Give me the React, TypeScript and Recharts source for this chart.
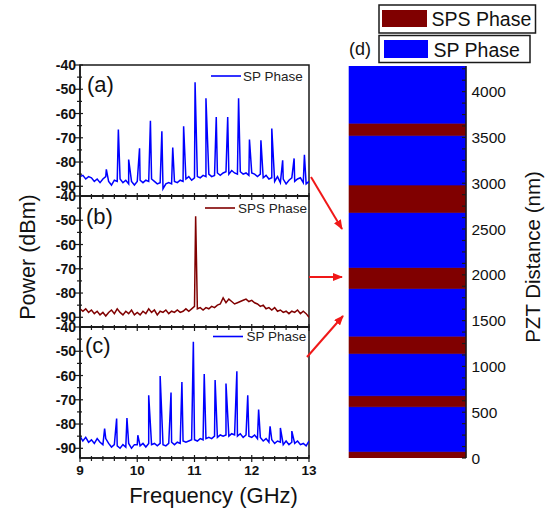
import React from 'react';
import { LineChart, Line, XAxis, YAxis, ReferenceArea, BarChart, Bar } from 'recharts';

// sampling grid of the spectrum analyser traces (GHz)
const freqGrid = [
  9.0, 9.05, 9.1, 9.15, 9.2, 9.25, 9.3, 9.35, 9.4, 9.45,
  9.5, 9.55, 9.6, 9.65, 9.7, 9.75, 9.8, 9.85, 9.9, 9.95,
  10.0, 10.05, 10.1, 10.15, 10.2, 10.25, 10.3, 10.35, 10.4, 10.45,
  10.5, 10.55, 10.6, 10.65, 10.7, 10.75, 10.8, 10.85, 10.9, 10.95,
  11.0, 11.05, 11.1, 11.15, 11.2, 11.25, 11.3, 11.35, 11.4, 11.45,
  11.5, 11.55, 11.6, 11.65, 11.7, 11.75, 11.8, 11.85, 11.9, 11.95,
  12.0, 12.05, 12.1, 12.15, 12.2, 12.25, 12.3, 12.35, 12.4, 12.45,
  12.5, 12.55, 12.6, 12.65, 12.7, 12.75, 12.8, 12.85, 12.9, 12.95,
  13.0,
];

// (a) SP phase
const baseA = [
  -86, -85.5, -87, -86, -86.5, -88, -87, -88.5, -87, -86,
  -88, -89.5, -87.5, -88, -87, -88.5, -87.5, -89, -88, -89.5,
  -88, -87.5, -88.5, -87.5, -88, -87, -88, -89, -88.5, -91,
  -89, -88.5, -89, -88, -88.5, -87.5, -88, -87, -86, -87.5,
  -86.5, -86, -86.5, -85.5, -86, -85, -86, -85.5, -84.5, -85.5,
  -84.5, -84, -85, -83.5, -84.5, -85, -84, -85, -84.5, -85.5,
  -84.5, -85, -86, -85, -86.5, -85.5, -87, -86.5, -88, -86,
  -88.5, -87, -89, -87.5, -86.5, -88, -87, -86.5, -88.5, -89,
  -88,
];
const peakFreqA = [9.46, 9.67, 9.85, 10.04, 10.23, 10.43, 10.62, 10.81, 11.01, 11.2, 11.38, 11.58, 11.77, 11.96, 12.16, 12.35, 12.54, 12.74, 12.92];
const peakPowerA = [-83, -66.6, -79, -74.3, -63, -67.3, -74, -65.3, -47.1, -53.7, -61.4, -61.4, -53.7, -70.7, -71, -66.2, -79.3, -78.5, -77];

// (b) SPS phase
const baseB = [
  -86.5, -87.5, -86.5, -88, -87, -88.5, -87.5, -89, -88, -89.5,
  -88, -87, -88.5, -86.5, -88, -89, -87.5, -88.5, -87, -89,
  -88, -89, -87.5, -88.5, -86.5, -88, -87, -89, -87.5, -88,
  -87, -88.5, -87.5, -88, -87, -88, -87.5, -86.5, -87.5, -86.5,
  -85.5, -86.5, -86, -87, -86, -86.5, -85.5, -86, -85, -84.5,
  -82, -84, -82.5, -83.5, -84.5, -84, -83.5, -83, -82.5, -83.5,
  -83, -84, -84.5, -85.5, -85, -86.5, -86, -87, -86, -87.5,
  -87, -88, -87.5, -88.5, -87.5, -88, -87, -88.5, -87.5, -88.5,
  -90,
];
const peakFreqB = [11.02];
const peakPowerB = [-48.4];

// (c) SP phase
const baseC = [
  -85, -87, -85.5, -87.5, -86.5, -88, -86, -87.5, -88.5, -86,
  -88, -89.5, -88.5, -89, -90, -88.5, -89.5, -88, -90, -88.5,
  -88.5, -89, -88, -89.5, -88, -88.5, -88, -89, -88, -88.5,
  -89, -88, -87.5, -88.5, -87.5, -88, -87, -87.5, -87, -86.5,
  -86.5, -87, -86, -86.5, -86, -85.5, -86, -85, -85.5, -84.5,
  -85, -84.5, -85, -84, -84.5, -85, -84, -85.5, -84.5, -85,
  -85.5, -84.5, -86, -85.5, -87, -86, -87.5, -86.5, -88, -87,
  -87.5, -88.5, -87, -88.5, -87.5, -88, -87, -88.5, -88, -89,
  -87,
];
const peakFreqC = [9.43, 9.64, 9.82, 10.01, 10.2, 10.4, 10.59, 10.78, 10.98, 11.17, 11.36, 11.55, 11.74, 11.93, 12.12, 12.32, 12.5, 12.7];
const peakPowerC = [-81.9, -77.7, -77.5, -84.6, -68.1, -60.2, -67, -62.7, -46.1, -59.4, -61.9, -63.3, -58.2, -68.1, -74, -80.9, -81.6, -82.9];

const freqTicks = [9, 9.2, 9.4, 9.6, 9.8, 10, 10.2, 10.4, 10.6, 10.8, 11, 11.2, 11.4, 11.6, 11.8, 12, 12.2, 12.4, 12.6, 12.8, 13];
const powerTicks = [-90, -85, -80, -75, -70, -65, -60, -55, -50, -45, -40];

// (d) phase map along the PZT scan (nm), band edges and phase of each band
const bandEdges = [0, 70, 560, 680, 1140, 1330, 1850, 2080, 2680, 2980, 3520, 3655, 4280];
const bandPhase = ['SPS', 'SP', 'SPS', 'SP', 'SPS', 'SP', 'SPS', 'SP', 'SPS', 'SP', 'SPS', 'SP'];
const distTicks = [
  0, 125, 250, 375, 500, 625, 750, 875, 1000, 1125, 1250, 1375, 1500, 1625, 1750, 1875,
  2000, 2125, 2250, 2375, 2500, 2625, 2750, 2875, 3000, 3125, 3250, 3375, 3500, 3625,
  3750, 3875, 4000, 4125, 4250,
];

const SP_COLOR = '#0000ff';
const SPS_COLOR = '#800000';
const FONT = '"Liberation Sans", Arial, sans-serif';
const AXIS = '#1a1a1a';

const buildSeries = (base: number[], pf: number[], pp: number[]) => {
  const pts = freqGrid.map((f, i) => ({ f, p: base[i] }));
  pf.forEach((f, i) => pts.push({ f, p: pp[i] }));
  return pts.sort((a, b) => a.f - b.f);
};

const dataA = buildSeries(baseA, peakFreqA, peakPowerA);
const dataB = buildSeries(baseB, peakFreqB, peakPowerB);
const dataC = buildSeries(baseC, peakFreqC, peakPowerC);

const FreqTick = (props: any) => {
  const { x, y, payload, showLabels } = props;
  const v = payload.value;
  const major = Math.abs(v - Math.round(v)) < 1e-6;
  return (
    <g>
      <line x1={x} x2={x} y1={y - (major ? 3 : 2)} y2={y + (major ? 4 : 3)} stroke={AXIS} strokeWidth={1.2} />
      {showLabels && major && (
        <text x={x} y={y + 16.5} textAnchor="middle" fontFamily={FONT} fontWeight="bold" fontSize={13.5} fill="#111">
          {v}
        </text>
      )}
    </g>
  );
};

const PowerTick = (props: any) => {
  const { x, y, payload } = props;
  const v = payload.value;
  const major = v % 10 === 0;
  return (
    <g>
      <line x1={x - (major ? 5 : 3)} x2={x + (major ? 3 : 2)} y1={y} y2={y} stroke={AXIS} strokeWidth={1.2} />
      {major && (
        <text x={x - 4} y={y} dy="0.36em" textAnchor="end" fontFamily={FONT} fontWeight="bold" fontSize={14} fill="#111">
          {v}
        </text>
      )}
    </g>
  );
};

const DistTick = (props: any) => {
  const { x, y, payload } = props;
  const v = payload.value;
  const major = v % 500 === 0;
  return (
    <g>
      <line x1={x - 4} x2={x} y1={y} y2={y} stroke={AXIS} strokeWidth={1.2} />
      {major && (
        <text x={x + 5.5} y={y} dy="0.36em" textAnchor="start" fontFamily={FONT} fontSize={15.5} fill="#111">
          {v}
        </text>
      )}
    </g>
  );
};

interface PanelProps {
  plotTop: number;
  data: { f: number; p: number }[];
  color: string;
  showLabels: boolean;
}

const SpectrumPanel: React.FC<PanelProps> = ({ plotTop, data, color, showLabels }) => {
  const axisH = showLabels ? 26 : 5;
  return (
    <div style={{ position: 'absolute', left: 0, top: plotTop - 10 }}>
      <LineChart
        width={320}
        height={10 + 131 + axisH}
        data={data}
        margin={{ top: 10, right: 11, left: 30, bottom: 0 }}
      >
        <XAxis
          dataKey='f'
          type='number'
          domain={[9, 13]}
          ticks={freqTicks}
          interval={0}
          tickLine={false}
          tickSize={0}
          tickMargin={0}
          height={axisH}
          axisLine={{ stroke: AXIS, strokeWidth: 1.5 }}
          tick={(p: any) => <FreqTick {...p} showLabels={showLabels} />}
          allowDataOverflow
        />
        <YAxis
          type='number'
          domain={[-94, -40]}
          ticks={powerTicks}
          interval={0}
          width={50}
          tickLine={false}
          tickSize={0}
          tickMargin={0}
          axisLine={{ stroke: AXIS, strokeWidth: 1.5 }}
          tick={(p: any) => <PowerTick {...p} />}
          allowDataOverflow
        />
        <ReferenceArea x1={9} x2={13} y1={-94} y2={-40} fill='none' stroke={AXIS} strokeWidth={1.5} />
        <Line
          type='linear'
          dataKey='p'
          stroke={color}
          strokeWidth={1.5}
          dot={false}
          isAnimationActive={false}
        />
      </LineChart>
    </div>
  );
};

const bandRow: Record<string, string | number> = { name: 'PZT' };
bandPhase.forEach((_, i) => {
  bandRow[`s${i}`] = bandEdges[i + 1] - bandEdges[i];
});

const PhaseMap = () => (
  <div style={{ position: 'absolute', left: 340, top: 56 }}>
    <BarChart
      width={209}
      height={412}
      data={[bandRow]}
      margin={{ top: 10, right: 23, left: 9, bottom: 10 }}
      barCategoryGap={0}
      barGap={0}
    >
      <XAxis dataKey='name' type='category' hide />
      <YAxis
        orientation='right'
        type='number'
        domain={[0, 4280]}
        ticks={distTicks}
        interval={0}
        width={60}
        tickLine={false}
        tickSize={0}
        tickMargin={0}
        axisLine={{ stroke: AXIS, strokeWidth: 1.5 }}
        tick={(p: any) => <DistTick {...p} />}
        allowDataOverflow
      />
      {bandPhase.map((ph, i) => (
        <Bar
          key={i}
          dataKey={`s${i}`}
          stackId='d'
          fill={ph === 'SP' ? SP_COLOR : SPS_COLOR}
          stroke={ph === 'SP' ? SP_COLOR : SPS_COLOR}
          strokeWidth={0.6}
          isAnimationActive={false}
        />
      ))}
    </BarChart>
  </div>
);

export default function App() {
  return (
    <div style={{ position: 'absolute', left: 0, top: 0, width: 549, height: 512, background: '#fff', fontFamily: FONT }}>
      <SpectrumPanel plotTop={65} data={dataA} color={SP_COLOR} showLabels={false} />
      <SpectrumPanel plotTop={196} data={dataB} color={SPS_COLOR} showLabels={false} />
      <SpectrumPanel plotTop={327} data={dataC} color={SP_COLOR} showLabels={true} />
      <PhaseMap />

      <svg width={549} height={512} style={{ position: 'absolute', left: 0, top: 0, pointerEvents: 'none' }}>
        <defs>
          <marker id='redHead' markerWidth={10} markerHeight={8} refX={9} refY={4} orient='auto' markerUnits='userSpaceOnUse'>
            <path d='M0,0 L10,4 L0,8 z' fill='#f01818' />
          </marker>
        </defs>
        {/* arrows from spectra to the map */}
        <line x1={311} y1={177} x2={342} y2={229} stroke='#f01818' strokeWidth={2} markerEnd='url(#redHead)' />
        <line x1={309} y1={277} x2={342} y2={277} stroke='#f01818' strokeWidth={2} markerEnd='url(#redHead)' />
        <line x1={307} y1={357} x2={343} y2={316} stroke='#f01818' strokeWidth={2} markerEnd='url(#redHead)' />

        {/* panel tags */}
        <text x={87} y={92} fontFamily={FONT} fontSize={22} fill='#111'>(a)</text>
        <text x={86} y={224} fontFamily={FONT} fontSize={22} fill='#111'>(b)</text>
        <text x={85} y={353} fontFamily={FONT} fontSize={22} fill='#111'>(c)</text>
        <text x={349} y={55} fontFamily={FONT} fontSize={18} fill='#111'>(d)</text>

        {/* spectrum legends */}
        <line x1={211} x2={241} y1={76} y2={76} stroke={SP_COLOR} strokeWidth={1.6} />
        <text x={243} y={80.5} fontFamily={FONT} fontSize={13.5} fill='#222'>SP Phase</text>
        <line x1={205} x2={235} y1={208} y2={208} stroke={SPS_COLOR} strokeWidth={1.6} />
        <text x={238} y={212.5} fontFamily={FONT} fontSize={13.5} fill='#222'>SPS Phase</text>
        <line x1={213} x2={243} y1={336.5} y2={336.5} stroke={SP_COLOR} strokeWidth={1.6} />
        <text x={246.5} y={341} fontFamily={FONT} fontSize={13.5} fill='#222'>SP Phase</text>

        {/* phase map legend */}
        <rect x={379} y={5} width={156.5} height={28} fill='#fff' stroke={AXIS} strokeWidth={1.5} />
        <rect x={382} y={10} width={45} height={17} fill={SPS_COLOR} />
        <text x={431.5} y={26} fontFamily={FONT} fontSize={19.5} fill='#111'>SPS Phase</text>
        <rect x={379} y={35.5} width={151} height={27} fill='#fff' stroke={AXIS} strokeWidth={1.5} />
        <rect x={384} y={40} width={44} height={18} fill={SP_COLOR} />
        <text x={433.5} y={56.5} fontFamily={FONT} fontSize={19.5} fill='#111'>SP Phase</text>

        {/* axis titles */}
        <text transform='translate(35,257) rotate(-90)' textAnchor='middle' fontFamily={FONT} fontSize={21.5} fill='#111'>
          Power (dBm)
        </text>
        <text x={213.5} y={503} textAnchor='middle' fontFamily={FONT} fontSize={22} fill='#111'>
          Frequency (GHz)
        </text>
        <text transform='translate(540,257) rotate(-90)' textAnchor='middle' fontFamily={FONT} fontSize={20.5} fill='#111'>
          PZT Distance (nm)
        </text>
      </svg>
    </div>
  );
}
